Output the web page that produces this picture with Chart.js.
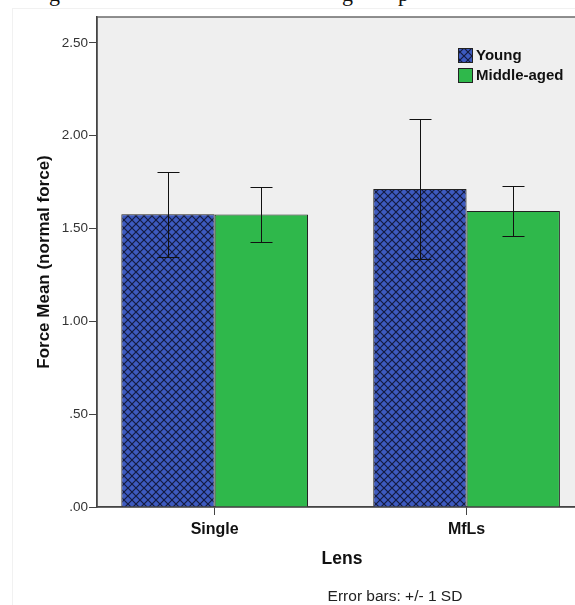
<!DOCTYPE html>
<html>
<head>
<meta charset="utf-8">
<script src="https://cdn.jsdelivr.net/npm/chart.js@4"></script>
<style>
  html, body { margin: 0; padding: 0; background: #fff; overflow: hidden; }
  #wrap { position: relative; width: 575px; height: 605px; overflow: hidden; }
  #frame { position: absolute; left: 12px; top: 8px; width: 600px; height: 620px; border: 1px solid #f1f1f1; }
  #cap { position: absolute; top: -19px; left: 0; width: 575px; height: 24px; font: 22px "Liberation Serif", serif; color: #111; }
  #cap span { position: absolute; top: 0; }
  #note { position: absolute; left: 0; width: 790px; top: 587px; text-align: center; font: 15.5px "Liberation Sans", Arial, sans-serif; color: #222; }
  canvas { position: absolute; left: 0; top: 0; }
</style>
</head>
<body>
<div id="wrap">
  <div id="frame"></div>
  <div id="cap"><span style="left:49px">g</span><span style="left:342px">g</span><span style="left:398px">p</span></div>
  <canvas id="chart" width="590" height="605"></canvas>
  <div id="note">Error bars: +/- 1 SD</div>
</div>
<script>
const categories = ['Single', 'MfLs'];
const seriesNames = ['Young', 'Middle-aged'];
const youngMean = [1.577, 1.713];
const youngSD = [0.229, 0.375];
const middleMean = [1.575, 1.594];
const middleSD = [0.147, 0.136];
const yTicks = [0, 0.5, 1, 1.5, 2, 2.5];

function hatch(){
    const s = 8;
    const c = document.createElement('canvas');
    c.width = s; c.height = s;
    const g = c.getContext('2d');
    g.fillStyle = '#3d5abf';
    g.fillRect(0, 0, s, s);
    g.strokeStyle = '#141b40';
    g.lineWidth = 1.2;
    g.beginPath();
    g.moveTo(0, 0); g.lineTo(s, s);
    g.moveTo(s, 0); g.lineTo(0, s);
    g.stroke();
    return g.createPattern(c, 'repeat');
}

const ctx = document.getElementById('chart').getContext('2d');
const youngFill = hatch();
const greenFill = '#2fb84b';

const plotBox = {
    id: 'plotBox',
    beforeDraw(chart){
        const a = chart.chartArea, c = chart.ctx;
        c.save();
        c.fillStyle = '#efefef';
        c.fillRect(a.left, a.top, a.right - a.left, a.bottom - a.top);
        c.strokeStyle = '#6b6b6b';
        c.lineWidth = 1.5;
        c.strokeRect(a.left, a.top, a.right - a.left, a.bottom - a.top);
        c.restore();
    }
};

const errorBars = {
    id: 'errorBars',
    afterDatasetsDraw(chart){
        const c = chart.ctx, y = chart.scales.y;
        c.save();
        c.strokeStyle = '#111';
        c.lineWidth = 1;
        chart.data.datasets.forEach((ds, i) => {
            chart.getDatasetMeta(i).data.forEach((bar, j) => {
                const m = ds.data[j].y, sd = ds.sd[j];
                const top = Math.round(y.getPixelForValue(m + sd)) + 0.5;
                const bot = Math.round(y.getPixelForValue(m - sd)) + 0.5;
                const x = Math.round(bar.x) + 0.5;
                c.beginPath();
                c.moveTo(x, top); c.lineTo(x, bot);
                c.moveTo(x - 11, top); c.lineTo(x + 11, top);
                c.moveTo(x - 11, bot); c.lineTo(x + 11, bot);
                c.stroke();
            });
        });
        c.restore();
    }
};

const boxLegend = {
    id: 'boxLegend',
    afterDraw(chart){
        const c = chart.ctx;
        c.save();
        c.font = 'bold 15px "Liberation Sans", Arial, sans-serif';
        c.textBaseline = 'middle';
        chart.data.datasets.forEach((ds, i) => {
            const yy = 55 + i * 20;
            c.fillStyle = ds.backgroundColor;
            c.fillRect(458, yy - 7, 15, 15);
            c.strokeStyle = '#222';
            c.lineWidth = 1;
            c.strokeRect(458.5, yy - 6.5, 14, 14);
            c.fillStyle = '#111';
            c.fillText(ds.label, 476, yy + 1);
        });
        c.restore();
    }
};

new Chart(ctx, {
    type: 'bar',
    data: {
        datasets: [
            {
                label: seriesNames[0],
                data: youngMean.map((v, i) => ({x: i, y: v})),
                sd: youngSD,
                backgroundColor: youngFill,
                borderColor: '#222',
                borderWidth: 1,
            },
            {
                label: seriesNames[1],
                data: middleMean.map((v, i) => ({x: i, y: v})),
                sd: middleSD,
                backgroundColor: greenFill,
                borderColor: '#222',
                borderWidth: 1,
            },
        ],
    },
    options: {
        responsive: false,
        animation: false,
        categoryPercentage: 0.741,
        barPercentage: 1,
        layout: {
            padding: {left: 0, top: 17, right: 3, bottom: 35},
        },
        plugins: {
            legend: {display: false},
            tooltip: {enabled: false},
        },
        scales: {
            x: {
                type: 'linear',
                offset: false,
                min: -0.467,
                max: 1.478,
                afterBuildTicks: (axis) => {
                    axis.ticks = categories.map((c, i) => ({value: i}));
                },
                afterFit: (scale) => { scale.height = 63; },
                grid: {
                    offset: false,
                    drawOnChartArea: false,
                    drawTicks: true,
                    tickLength: 8,
                    color: '#444',
                },
                border: {color: '#444', width: 1.5},
                ticks: {
                    padding: 5,
                    color: '#111',
                    font: {family: '"Liberation Sans", Arial, sans-serif', size: 16, weight: 'bold'},
                    callback: (v) => categories[v],
                },
                title: {
                    display: true,
                    text: 'Lens',
                    color: '#111',
                    padding: {top: 0, bottom: 0},
                    font: {family: '"Liberation Sans", Arial, sans-serif', size: 17.5, weight: 'bold'},
                },
            },
            y: {
                min: 0,
                max: 2.639,
                afterBuildTicks: (axis) => {
                    axis.ticks = yTicks.map(v => ({value: v}));
                },
                afterFit: (scale) => { scale.width = 97; },
                grid: {
                    drawOnChartArea: false,
                    drawTicks: true,
                    tickLength: 8,
                    color: '#444',
                },
                border: {color: '#444', width: 1.5},
                ticks: {
                    padding: 1,
                    color: '#333',
                    font: {family: '"Liberation Sans", Arial, sans-serif', size: 13.5},
                    callback: (v) => v.toFixed(2).replace(/^0/, ''),
                },
                title: {
                    display: true,
                    text: 'Force Mean (normal force)',
                    color: '#111',
                    padding: {top: 34, bottom: 0},
                    font: {family: '"Liberation Sans", Arial, sans-serif', size: 17, weight: 'bold'},
                },
            },
        },
    },
    plugins: [plotBox, errorBars, boxLegend],
});
</script>
</body>
</html>
